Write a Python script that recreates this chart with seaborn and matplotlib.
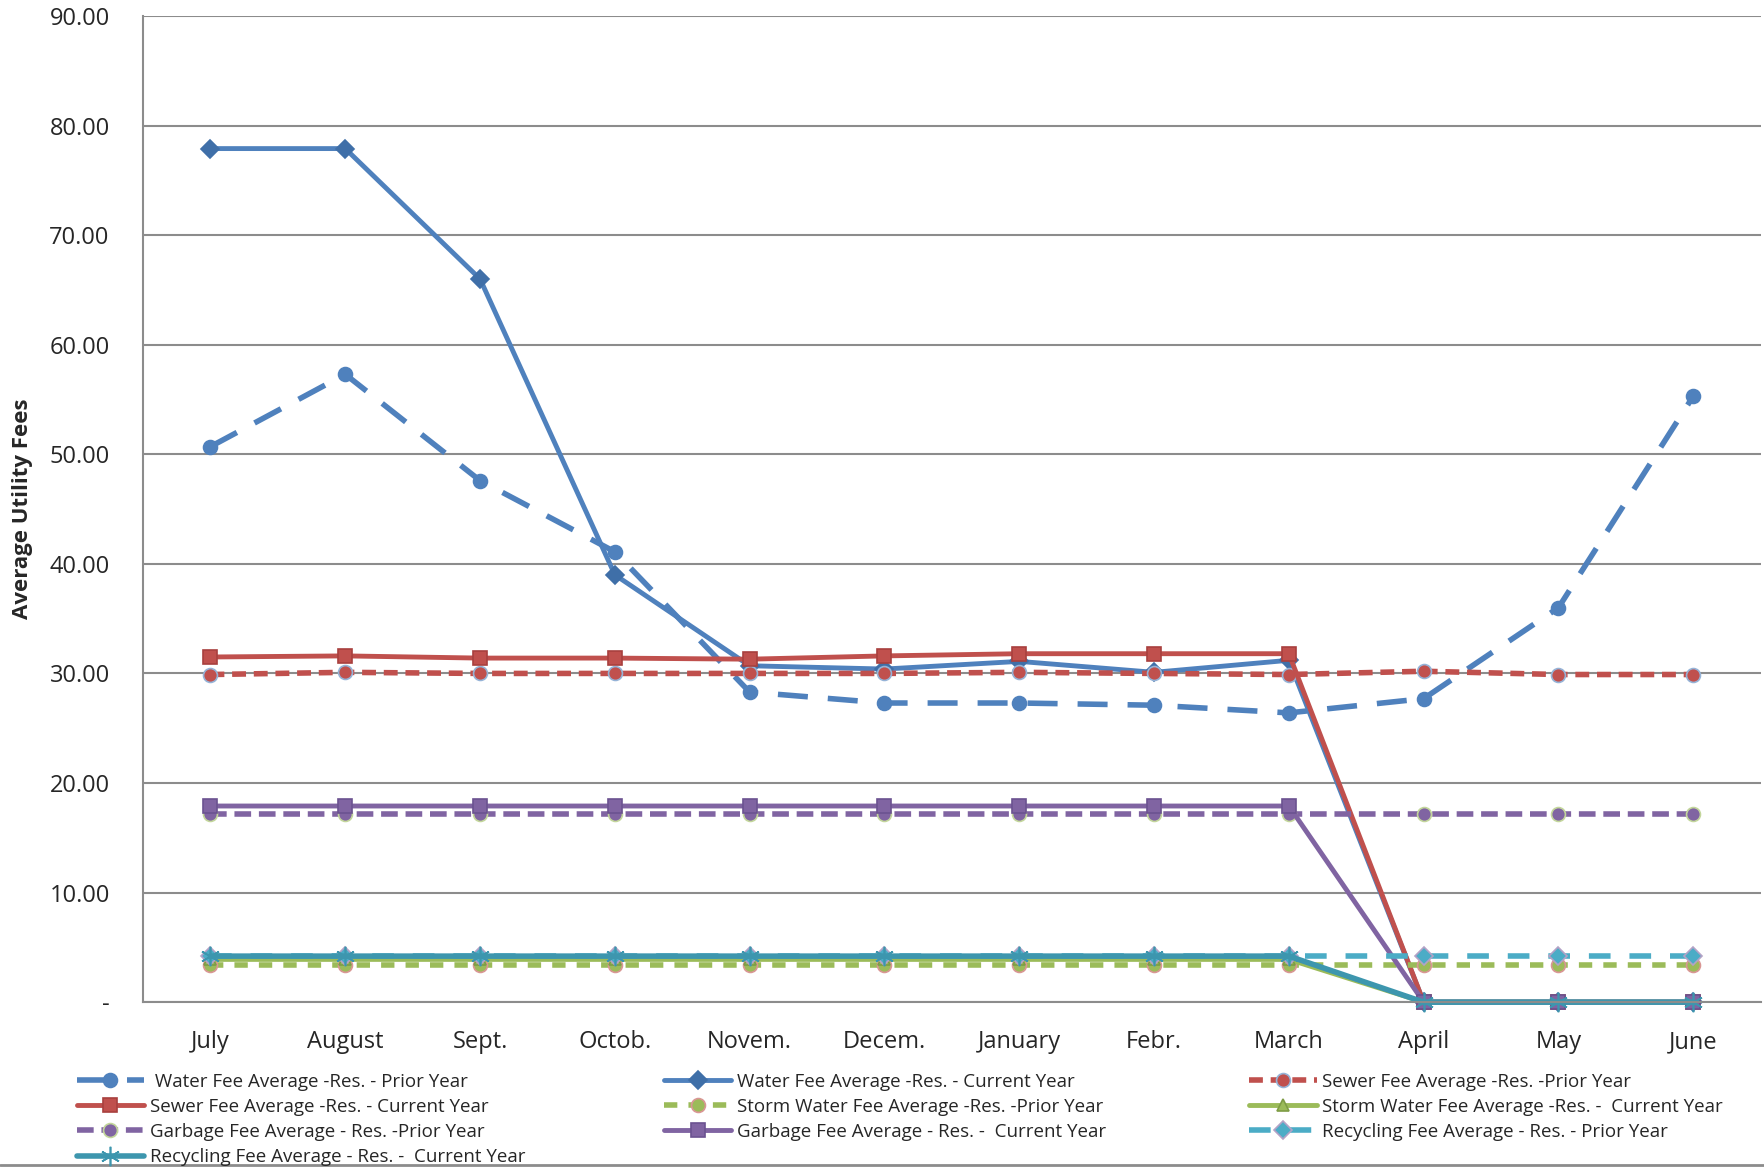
import numpy as np
import pandas as pd
import matplotlib
matplotlib.use("Agg")
import matplotlib.pyplot as plt
import seaborn as sns

months = ["July", "August", "Sept.", "Octob.", "Novem.", "Decem.",
          "January", "Febr.", "March", "April", "May", "June"]

water_prior = [50.7, 57.3, 47.6, 41.1, 28.3, 27.3, 27.3, 27.1, 26.4, 27.7, 36.0, 55.3]
water_current = [77.9, 77.9, 66.0, 39.0, 30.7, 30.4, 31.1, 30.1, 31.2, 0, 0, 0]
sewer_prior = [29.9, 30.1, 30.0, 30.0, 30.0, 30.0, 30.1, 30.0, 29.9, 30.2, 29.9, 29.9]
sewer_current = [31.5, 31.6, 31.4, 31.4, 31.3, 31.6, 31.8, 31.8, 31.8, 0, 0, 0]
storm_prior = [3.4, 3.4, 3.4, 3.4, 3.4, 3.4, 3.4, 3.4, 3.4, 3.4, 3.4, 3.4]
storm_current = [3.9, 3.9, 3.9, 3.9, 3.9, 3.9, 3.9, 3.9, 3.9, 0, 0, 0]
garbage_prior = [17.2, 17.2, 17.2, 17.2, 17.2, 17.2, 17.2, 17.2, 17.2, 17.2, 17.2, 17.2]
garbage_current = [17.9, 17.9, 17.9, 17.9, 17.9, 17.9, 17.9, 17.9, 17.9, 0, 0, 0]
recycling_prior = [4.2, 4.2, 4.2, 4.2, 4.2, 4.2, 4.2, 4.2, 4.2, 4.2, 4.2, 4.2]
recycling_current = [4.2, 4.2, 4.2, 4.2, 4.2, 4.2, 4.2, 4.2, 4.2, 0, 0, 0]

labels = [
    " Water Fee Average -Res. - Prior Year",
    "Water Fee Average -Res. - Current Year",
    "Sewer Fee Average -Res. -Prior Year",
    "Sewer Fee Average -Res. - Current Year",
    "Storm Water Fee Average -Res. -Prior Year",
    "Storm Water Fee Average -Res. -  Current Year",
    "Garbage Fee Average - Res. -Prior Year",
    "Garbage Fee Average - Res. -  Current Year",
    "Recycling Fee Average - Res. - Prior Year",
    "Recycling Fee Average - Res. -  Current Year",
]
series = [water_prior, water_current, sewer_prior, sewer_current, storm_prior,
          storm_current, garbage_prior, garbage_current, recycling_prior, recycling_current]

BLUE = "#4F81BD"
RED = "#C0504D"
GREEN = "#9BBB59"
PURPLE = "#8064A2"
AQUA = "#4BACC6"
TEAL = "#3D96AE"

styles = [
    dict(color=BLUE, ls=(0, (5.4, 3.6)), marker="o", ms=10, mfc=BLUE, mec=BLUE, lw=4.0),
    dict(color=BLUE, ls="-", marker="D", ms=9, mfc="#3F6FA8", mec="#3F6FA8", lw=3.5),
    dict(color=RED, ls=(0, (2.5, 1.4)), marker="o", ms=10, mfc=RED, mec="#95B3D7", lw=4.0),
    dict(color=RED, ls="-", marker="s", ms=10, mfc=RED, mec="#A8403E", lw=3.5),
    dict(color=GREEN, ls=(0, (2.4, 2.0)), marker="o", ms=10, mfc=GREEN, mec="#D99694", lw=4.0),
    dict(color=GREEN, ls="-", marker="^", ms=9, mfc=GREEN, mec="#7E9C45", lw=3.5),
    dict(color=PURPLE, ls=(0, (3.0, 1.4)), marker="o", ms=10, mfc=PURPLE, mec="#C3D69B", lw=4.0),
    dict(color=PURPLE, ls="-", marker="s", ms=10, mfc=PURPLE, mec="#6B5290", lw=3.5),
    dict(color=AQUA, ls=(0, (3.9, 3.4)), marker="D", ms=9, mfc=AQUA, mec="#B3A2C7", lw=4.0),
    dict(color=TEAL, ls="-", marker=(6, 2, 0), ms=14, mfc=TEAL, mec=TEAL, lw=4.0),
]

sns.set_theme(style="white")
plt.rcParams["font.family"] = ["Open Sans", "DejaVu Sans"]

fig = plt.figure(figsize=(17.64, 11.68), dpi=100)
ax = fig.add_axes([0.0811, 0.142, 0.917, 0.8443])

x = np.arange(len(months))
handles = []
for vals, lab, st in zip(series, labels, styles):
    df = pd.DataFrame({"month": x, "fee": vals})
    sns.lineplot(data=df, x="month", y="fee", ax=ax, color=st["color"],
                 linestyle=st["ls"], linewidth=st["lw"], marker=st["marker"],
                 markersize=st["ms"], markerfacecolor=st["mfc"],
                 markeredgecolor=st["mec"], markeredgewidth=1.2,
                 label=lab, legend=False, clip_on=False)
    handles.append(ax.lines[-1])

ax.set_xlim(-0.5, 11.5)
ax.set_ylim(0, 90)
ax.set_yticks(np.arange(0, 91, 10))
ax.set_yticklabels(["-"] + [f"{v:.2f}" for v in range(10, 91, 10)], fontsize=17)
ax.set_xticks(x)
ax.set_xticklabels(months, fontsize=17)
ax.tick_params(axis="x", length=0, pad=20)
ax.tick_params(axis="y", length=0, pad=24)
ax.yaxis.grid(True, color="#8C8C8C", linewidth=1.5)
ax.set_axisbelow(True)
for side in ["top", "right"]:
    ax.spines[side].set_visible(False)
for side in ["left", "bottom"]:
    ax.spines[side].set_color("#8C8C8C")
    ax.spines[side].set_linewidth(1.5)
ax.set_xlabel("")
ax.set_ylabel("Average Utility Fees", fontsize=16, fontweight="bold")
ax.yaxis.set_label_coords(-0.068, 0.5)

# legend: three column blocks below the plot
columns = [([0, 3, 6, 9], 0.0434), ([1, 4, 7], 0.3764), ([2, 5, 8], 0.7081)]
for idx, xpos in columns:
    leg = fig.legend([handles[i] for i in idx], [labels[i] for i in idx],
                     loc="upper left", bbox_to_anchor=(xpos, 0.0815), ncol=1,
                     frameon=False, fontsize=13.5, handlelength=3.6,
                     handletextpad=0.3, labelspacing=0.38, borderpad=0,
                     borderaxespad=0)

# frame line along the bottom edge of the chart area
fig.add_artist(plt.Line2D([0, 1], [0.0025, 0.0025], transform=fig.transFigure,
                          color="#8C8C8C", linewidth=2))

fig.savefig("out.png", dpi=100)
